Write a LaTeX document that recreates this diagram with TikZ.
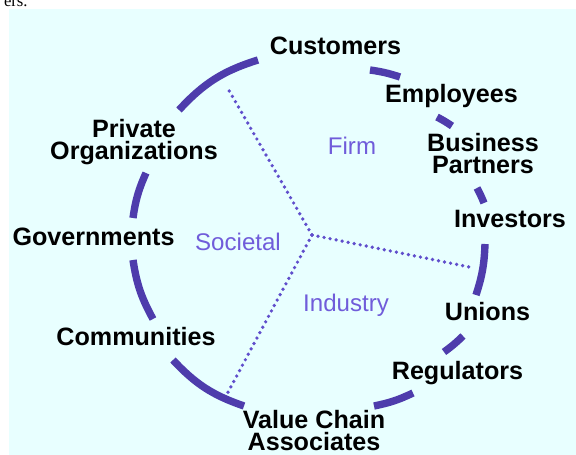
\documentclass[tikz,border=0pt]{standalone}
\usepackage{fontspec}
\setmainfont{Liberation Sans}
\newfontfamily\captionserif{Liberation Serif}

\definecolor{paleCyan}{RGB}{232,255,255}
\definecolor{ringBlue}{RGB}{78,60,172}
\definecolor{levelBlue}{RGB}{112,92,218}
\definecolor{spokeBlue}{RGB}{96,78,204}

\begin{document}
\begin{tikzpicture}[x=0.02cm, y=-0.02cm,
    stakeholder/.style={font=\fontsize{14.3}{12.8}\selectfont\bfseries, align=center, inner sep=0pt, anchor=base},
    level/.style={font=\fontsize{13.7}{14}\selectfont, text=levelBlue, inner sep=0pt, anchor=base},
    ring/.style={draw=ringBlue, line width=4.2pt},
    spoke/.style={draw=spokeBlue, line width=2.1pt, line cap=round, dash pattern=on 0pt off 3.5pt}]
\fill[white] (0,0) rectangle (576,455);
\fill[paleCyan] (9,9) rectangle (576,455);
\begin{scope}
\clip (0,0) rectangle (576,9);
\node[font=\captionserif\fontsize{9.5}{11}\selectfont, anchor=base east, inner sep=0pt] (captionTail) at (28,7) {ers.};
\end{scope}

\node[stakeholder] (customers) at (335.5,55) {Customers};
\node[stakeholder] (employees) at (451.5,103) {Employees};
\node[stakeholder] (partners) at (483,174) {Business\\Partners};
\node[stakeholder] (investors) at (510,228) {Investors};
\node[stakeholder] (unions) at (487.5,321) {Unions};
\node[stakeholder] (regulators) at (457.5,380) {Regulators};
\node[stakeholder] (valueChain) at (314,451) {Value Chain\\Associates};
\node[stakeholder] (communities) at (136,346) {Communities};
\node[stakeholder] (governments) at (93.5,246) {Governments};
\node[stakeholder] (privateOrgs) at (134,160) {Private\\Organizations};

\node[level] (firm) at (352,155) {Firm};
\node[level] (societal) at (238,251) {Societal};
\node[level] (industry) at (346,312) {Industry};

% ring pieces between the stakeholders
\draw[ring] (179,110) to[bend left=15] (258,60);
\draw[ring] (370,70) to[bend left=5] (400,77);
\draw[ring] (437,117) to[bend left=3] (452,126);
\draw[ring] (477,188) to[bend left=3] (484,203);
\draw[ring] (485,244) to[bend left=8] (476,295);
\draw[ring] (463,336) to[bend left=4] (444,352);
\draw[ring] (413,393) to[bend left=7] (374,406);
\draw[ring] (244,406) to[bend left=14] (173,360);
\draw[ring] (153,319) to[bend left=10] (133,260);
\draw[ring] (133,218) to[bend left=8] (146,173);

% spokes
\coordinate (hub) at (312,235);
\coordinate (topLeftEnd) at (227,87);
\coordinate (rightEnd) at (474,268);
\coordinate (bottomLeftEnd) at (226,396);
\draw[spoke] (hub) -- (topLeftEnd);
\draw[spoke] (hub) -- (rightEnd);
\draw[spoke] (hub) -- (bottomLeftEnd);

\end{tikzpicture}
\end{document}
